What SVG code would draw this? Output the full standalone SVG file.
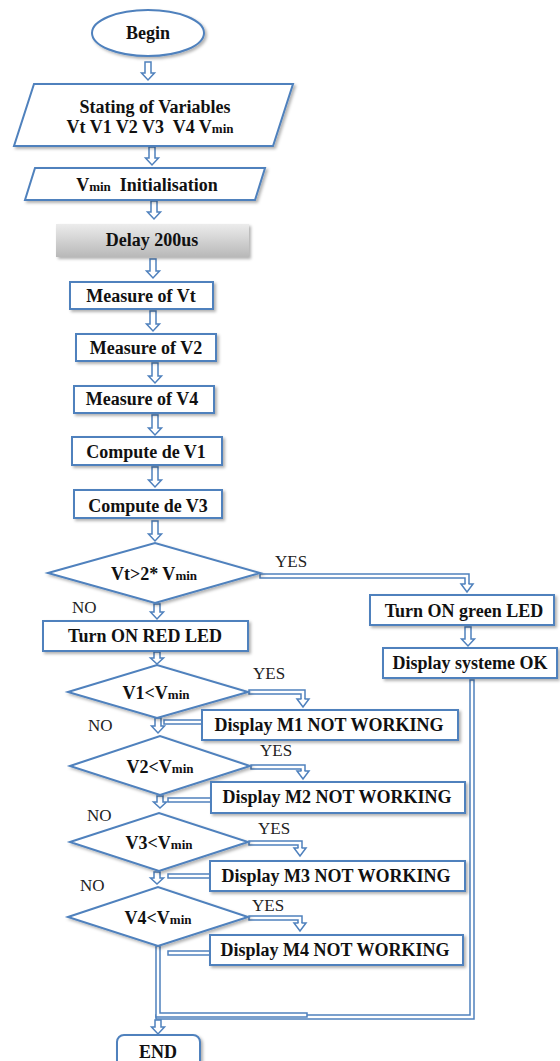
<svg xmlns="http://www.w3.org/2000/svg" width="560" height="1061" viewBox="0 0 560 1061">
<defs>
<linearGradient id="gray" x1="0" y1="0" x2="0" y2="1">
<stop offset="0" stop-color="#ececec"/>
<stop offset="1" stop-color="#b8b8b8"/>
</linearGradient>
<filter id="sh" x="-10%" y="-20%" width="130%" height="160%">
<feDropShadow dx="2" dy="2" stdDeviation="1.5" flood-color="#000" flood-opacity="0.3"/>
</filter>
<style>
.bx{fill:#fff;stroke:#4f81bd;stroke-width:2;filter:url(#sh)}
.t{font-family:"Liberation Serif","Times New Roman",serif;font-weight:bold;font-size:18px;fill:#111;text-anchor:middle}
.l{font-family:"Liberation Serif","Times New Roman",serif;font-size:17px;fill:#222}
.s{font-size:13px}
.ar{fill:#fff;stroke:#4f81bd;stroke-width:1.5;stroke-linejoin:miter}
.co{fill:none;stroke:#4f81bd;stroke-width:5.5;stroke-linecap:square;stroke-linejoin:miter}
.ci{fill:none;stroke:#fff;stroke-width:2.5;stroke-linecap:square;stroke-linejoin:miter}
.hd{fill:#fff;stroke:#4f81bd;stroke-width:1.5}
</style>
</defs>
<rect width="560" height="1061" fill="#fff"/>

<g id="connectors">
<polygon class="ar" points="145,62 151,62 151,73 154.5,73 148,80 141.5,73 145,73"/>
<polygon class="ar" points="149,147 155,147 155,158 158.5,158 152,165 145.5,158 149,158"/>
<polygon class="ar" points="151,201 157,201 157,212 160.5,212 154,219 147.5,212 151,212"/>
<polygon class="ar" points="150,259 156,259 156,271 159.5,271 153,278 146.5,271 150,271"/>
<polygon class="ar" points="150,311 156,311 156,324 159.5,324 153,331 146.5,324 150,324"/>
<polygon class="ar" points="152,363 158,363 158,376 161.5,376 155,383 148.5,376 152,376"/>
<polygon class="ar" points="152,415 158,415 158,428 161.5,428 155,435 148.5,428 152,428"/>
<polygon class="ar" points="152,467 158,467 158,480 161.5,480 155,487 148.5,480 152,480"/>
<polygon class="ar" points="152,521 158,521 158,534 161.5,534 155,541 148.5,534 152,534"/>
<polygon class="ar" points="154,604 160,604 160,612 163.5,612 157,619 150.5,612 154,612"/>
<polygon class="ar" points="154,652 160,652 160,658 163.5,658 157,664 150.5,658 154,658"/>
<polygon class="ar" points="155,718 161,718 161,726 164.5,726 158,733 151.5,726 155,726"/>
<polygon class="ar" points="157,796 163,796 163,802 166.5,802 160,808 153.5,802 157,802"/>
<polygon class="ar" points="154,872 160,872 160,878 163.5,878 157,884 150.5,878 154,878"/>
<polygon class="ar" points="465,627 471,627 471,639 474.5,639 468,646 461.5,639 465,639"/>

<path class="co" d="M262,576 H467 V583"/><path class="ci" d="M262,576 H467 V583"/>
<path class="hd" d="M465.5,584 L461,584 L467,592 L473,584 L468.5,584"/>

<path class="co" d="M251,692 H303 V698"/><path class="ci" d="M251,692 H303 V698"/>
<path class="hd" d="M301.5,699 L297,699 L303,707 L309,699 L304.5,699"/>

<path class="co" d="M253,767 H303 V770"/><path class="ci" d="M253,767 H303 V770"/>
<path class="hd" d="M301.5,771 L297,771 L303,779 L309,771 L304.5,771"/>

<path class="co" d="M251,843 H300 V847"/><path class="ci" d="M251,843 H300 V847"/>
<path class="hd" d="M298.5,848 L294,848 L300,856 L306,848 L301.5,848"/>

<path class="co" d="M251,918 H300 V922"/><path class="ci" d="M251,918 H300 V922"/>
<path class="hd" d="M298.5,923 L294,923 L300,931 L306,923 L301.5,923"/>

<path class="co" d="M166,722 H200"/><path class="ci" d="M166,722 H200"/>
<path class="co" d="M170,800 H209"/><path class="ci" d="M170,800 H209"/>
<path class="co" d="M170,876 H208"/><path class="ci" d="M170,876 H208"/>
<path class="co" d="M170,953 H208"/><path class="ci" d="M170,953 H208"/>

<path class="co" d="M472,682 V1017 H158"/><path class="ci" d="M472,682 V1017 H158"/>
<path class="co" d="M158,948 V1015 H305"/><path class="ci" d="M158,948 V1015 H305"/>
<polygon class="ar" points="155,1020 161,1020 161,1027 164.5,1027 158,1034 151.5,1027 155,1027"/>
</g>

<g id="begin">
<ellipse class="bx" cx="148" cy="33" rx="56" ry="23"/>
<text class="t" x="148" y="39">Begin</text>
</g>

<g id="stating">
<polygon class="bx" points="34,84 293,84 273,146 14,146"/>
<text class="t" x="155" y="113">Stating of Variables</text>
<text class="t" x="150" y="133">Vt V1 V2 V3&#160; V4 V<tspan class="s">min</tspan></text>
</g>

<g id="init">
<polygon class="bx" points="35,168 265,168 255,200 25,200"/>
<text class="t" x="147" y="191">V<tspan class="s">min</tspan>&#160; Initialisation</text>
</g>

<g id="delay">
<rect x="56" y="224" width="193" height="33" fill="url(#gray)" filter="url(#sh)"/>
<text class="t" x="152" y="246">Delay 200us</text>
</g>

<g id="measVt">
<rect class="bx" x="70" y="282" width="143" height="27"/>
<text class="t" x="141" y="302">Measure of Vt</text>
</g>
<g id="measV2">
<rect class="bx" x="76" y="334" width="140" height="27"/>
<text class="t" x="146" y="354">Measure of V2</text>
</g>
<g id="measV4">
<rect class="bx" x="74" y="386" width="140" height="27"/>
<text class="t" x="142" y="405">Measure of V4</text>
</g>
<g id="compV1">
<rect class="bx" x="72" y="437" width="150" height="28"/>
<text class="t" x="146" y="458">Compute de V1</text>
</g>
<g id="compV3">
<rect class="bx" x="74" y="490" width="148" height="28"/>
<text class="t" x="148" y="512">Compute de V3</text>
</g>

<g id="dec1">
<polygon class="bx" points="48,573 155,543 260,573 155,603"/>
<text class="t" x="154" y="580">Vt&gt;2* V<tspan class="s">min</tspan></text>
<text class="l" x="275" y="567">YES</text>
<text class="l" x="72" y="613">NO</text>
</g>

<g id="greenLed">
<rect class="bx" x="370" y="595" width="184" height="30"/>
<text class="t" x="464" y="617">Turn ON green LED</text>
</g>
<g id="sysOk">
<rect class="bx" x="383" y="648" width="174" height="30"/>
<text class="t" x="470" y="669">Display systeme OK</text>
</g>

<g id="redLed">
<rect class="bx" x="43" y="621" width="205" height="30"/>
<text class="t" x="145" y="642">Turn ON RED LED</text>
</g>

<g id="dec2">
<polygon class="bx" points="68,692 157,665 248,692 157,718"/>
<text class="t" x="156" y="699">V1&lt;V<tspan class="s">min</tspan></text>
<text class="l" x="253" y="679">YES</text>
<text class="l" x="88" y="731">NO</text>
</g>
<g id="m1">
<rect class="bx" x="202" y="710" width="256" height="30"/>
<text class="t" x="329" y="731">Display M1 NOT WORKING</text>
</g>

<g id="dec3">
<polygon class="bx" points="70,766 160,736 250,766 160,795"/>
<text class="t" x="160" y="773">V2&lt;V<tspan class="s">min</tspan></text>
<text class="l" x="260" y="756">YES</text>
<text class="l" x="87" y="821">NO</text>
</g>
<g id="m2">
<rect class="bx" x="211" y="782" width="254" height="31"/>
<text class="t" x="337" y="803">Display M2 NOT WORKING</text>
</g>

<g id="dec4">
<polygon class="bx" points="70,842 159,813 248,842 159,871"/>
<text class="t" x="159" y="849">V3&lt;V<tspan class="s">min</tspan></text>
<text class="l" x="258" y="834">YES</text>
<text class="l" x="80" y="891">NO</text>
</g>
<g id="m3">
<rect class="bx" x="210" y="861" width="255" height="30"/>
<text class="t" x="336" y="882">Display M3 NOT WORKING</text>
</g>

<g id="dec5">
<polygon class="bx" points="68,917 158,887 248,917 158,946"/>
<text class="t" x="158" y="924">V4&lt;V<tspan class="s">min</tspan></text>
<text class="l" x="252" y="911">YES</text>
</g>
<g id="m4">
<rect class="bx" x="210" y="935" width="253" height="30"/>
<text class="t" x="335" y="956">Display M4 NOT WORKING</text>
</g>

<g id="end">
<rect class="bx" x="117" y="1035" width="83" height="40" rx="7"/>
<text class="t" x="158" y="1058">END</text>
</g>
</svg>
